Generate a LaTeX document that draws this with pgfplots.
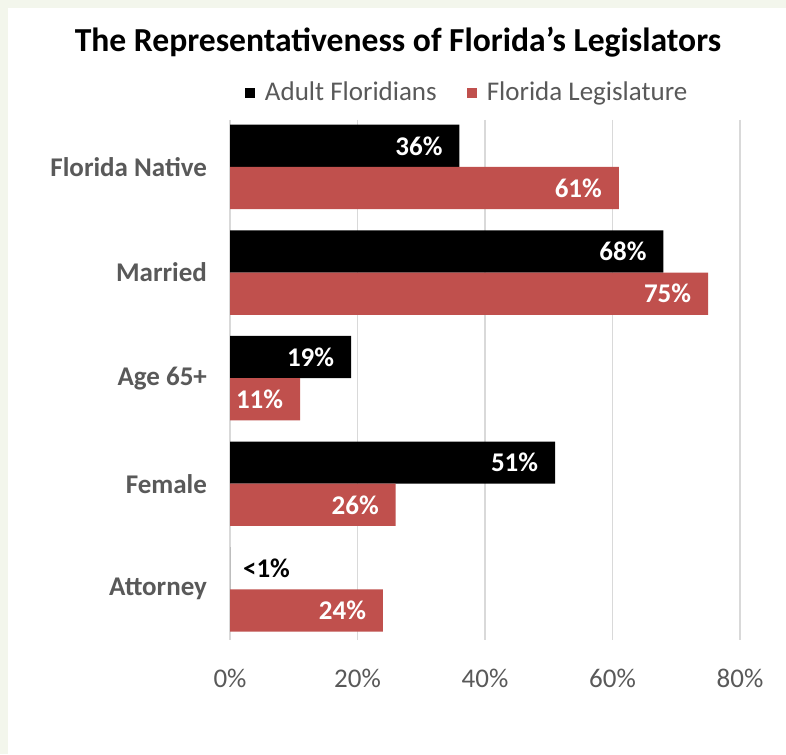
\documentclass[border=0pt]{standalone}
\usepackage{fontspec}
\setmainfont{Carlito}
\usepackage{pgfplots}
\usepackage{pgfplotstable}
\pgfplotsset{compat=1.18}
\definecolor{legred}{HTML}{C0504D}
\definecolor{labgray}{HTML}{595959}
\definecolor{gridgray}{HTML}{D9D9D9}
\definecolor{edge}{HTML}{F3F6EC}

% y: 1 Florida Native, 2 Married, 3 Age 65+, 4 Female, 5 Attorney
\pgfplotstableread{
y x lbl
1 36 36
2 68 68
3 19 19
4 51 51
}\adult
\pgfplotstableread{
y x lbl
1 61 61
2 75 75
3 11 11
4 26 26
5 24 24
}\legis

\begin{document}
\begin{tikzpicture}
\useasboundingbox (-115pt,-57pt) rectangle (278pt,320pt);
\fill[edge] (-115pt,-57pt) rectangle (278pt,320pt);
\fill[white] (-111pt,-57pt) rectangle (278pt,316pt);
\node[font=\fontsize{16.8}{20}\selectfont\bfseries] at (84pt,299pt)
  {The Representativeness of Florida’s Legislators};
\begin{axis}[
  at={(0,0)},anchor=south west,scale only axis,
  width=255pt,height=260pt,
  xmin=0,xmax=80,ymin=0.555,ymax=5.48,y dir=reverse,
  xtick={0,20,40,60,80},xticklabels={0\%,20\%,40\%,60\%,80\%},
  ytick={1,2,3,4,5},
  yticklabels={Florida Native,Married,Age 65+,Female,Attorney},
  xmajorgrids,grid style={gridgray,line width=0.75pt},
  axis line style={draw=none},major tick length=0pt,
  xticklabel style={font=\fontsize{13.5}{16}\selectfont,text=labgray,yshift=-11pt},
  yticklabel style={font=\fontsize{13.5}{16}\selectfont\bfseries,text=labgray,xshift=-8pt},
  xbar,bar width=0.4,
  point meta=explicit symbolic,
  legend style={draw=none,fill=none,legend columns=2,
    font=\fontsize{13.5}{16}\selectfont,text=labgray,
    at={(rel axis cs:0.467,1.052)},anchor=center,
    /tikz/every odd column/.append style={column sep=3pt},
    /tikz/every even column/.append style={column sep=13pt}},
  legend image code/.code={\fill[#1] (-2pt,-2.5pt) rectangle (3pt,2.5pt);},
]
\addplot[fill=black,draw=none,bar shift=-0.2,
  nodes near coords={\pgfplotspointmeta\%},
  every node near coord/.append style={anchor=east,xshift=-5pt,text=white,
    font=\fontsize{13.5}{16}\selectfont\bfseries}]
  table[x=x,y=y,meta=lbl] {\adult};
\addlegendentry{Adult Floridians}
\addplot[fill=legred,draw=none,bar shift=0.2,
  nodes near coords={\pgfplotspointmeta\%},
  every node near coord/.append style={anchor=east,xshift=-5pt,text=white,
    font=\fontsize{13.5}{16}\selectfont\bfseries}]
  table[x=x,y=y,meta=lbl] {\legis};
\addlegendentry{Florida Legislature}
\addplot[fill=black,draw=none,bar shift=-0.2,forget plot,
  nodes near coords={<1\%},
  every node near coord/.append style={anchor=west,xshift=3pt,text=black,
    font=\fontsize{13.5}{16}\selectfont\bfseries}]
  coordinates {(0,5)};
\end{axis}
\end{tikzpicture}
\end{document}
